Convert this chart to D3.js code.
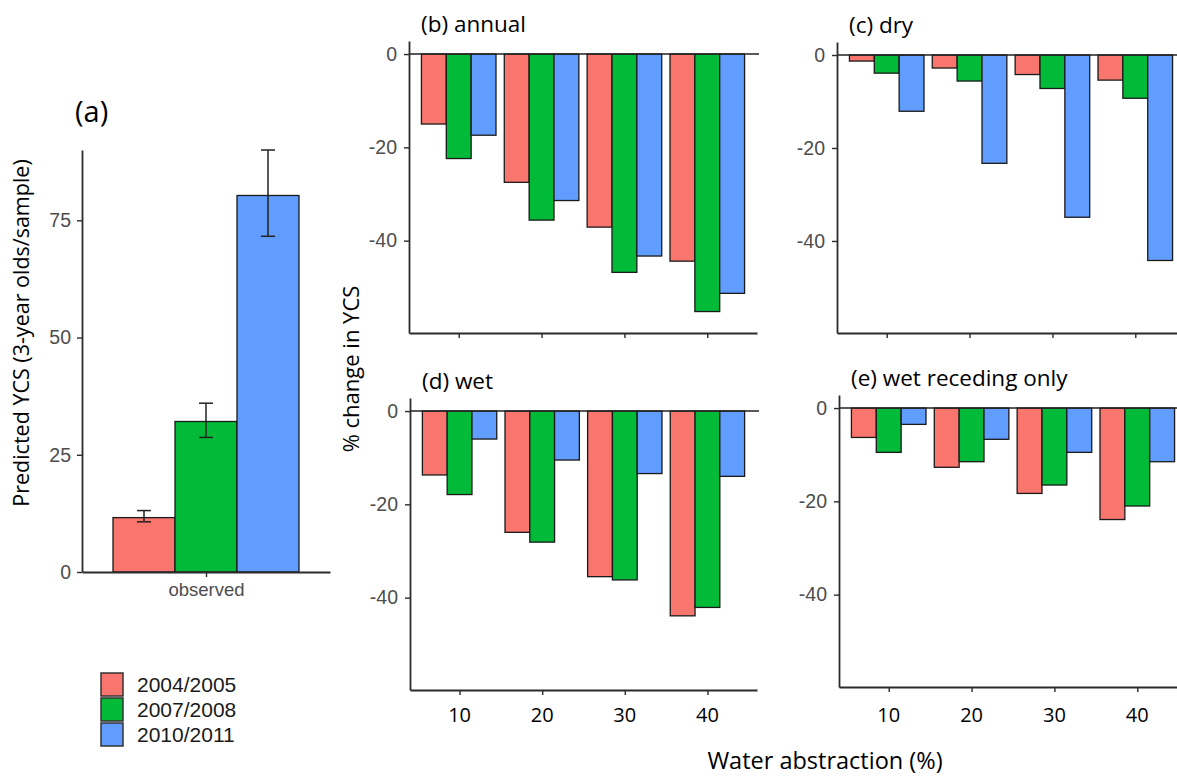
<!DOCTYPE html>
<html>
<head>
<meta charset="utf-8">
<script src="https://cdn.jsdelivr.net/npm/d3@7"></script>
<style>
  html, body { margin: 0; padding: 0; background: #fff; }
  svg { display: block; }
</style>
</head>
<body>
<svg id="chart" width="1177" height="777"></svg>
<script>
// ---------------- DATA ----------------
const groups = ["2004/2005", "2007/2008", "2010/2011"];
const observedCategory = ["observed"];
const observedMean  = [11.6, 32.1, 80.3];
const observedLower = [10.7, 28.7, 71.6];
const observedUpper = [13.1, 36.0, 90.0];

const abstraction = [10, 20, 30, 40];
// series per group: [2004/2005, 2007/2008, 2010/2011], values per abstraction level
const annualChange = [
  [-15.0, -27.5, -37.1, -44.4],
  [-22.4, -35.6, -46.8, -55.2],
  [-17.4, -31.4, -43.3, -51.3]
];
const dryChange = [
  [-1.3, -2.8, -4.2, -5.4],
  [-3.9, -5.6, -7.2, -9.3],
  [-12.1, -23.3, -34.9, -44.2]
];
const wetChange = [
  [-13.7, -26.0, -35.5, -43.9],
  [-17.9, -28.1, -36.2, -42.1],
  [-6.0, -10.5, -13.4, -14.0]
];
const wetRecedingChange = [
  [-6.3, -12.7, -18.3, -23.9],
  [-9.5, -11.5, -16.5, -21.0],
  [-3.5, -6.7, -9.5, -11.5]
];
const observedTicks = [0, 25, 50, 75];
const changeTicks = [0, -20, -40];
const changeDomain = [-59.8, 2.8];
const observedDomain = [0, 90];

// ---------------- STYLE ----------------
const colors = ["#F8766D", "#00BA38", "#619CFF"];
const axisColor = "#2b2b2b";
const tickLabelColor = "#4d4d4d";
const tickFont = "'Liberation Sans', Arial, sans-serif";
const labelFont = "'Open Sans', 'Noto Sans', sans-serif";
const plainFormat = d => String(d);   // hyphen-minus like the reference

const svg = d3.select("#chart");

function styleAxis(g) {
  g.select(".domain").attr("stroke", axisColor).attr("stroke-width", 1.8);
  g.selectAll(".tick line").attr("stroke", axisColor).attr("stroke-width", 1.4);
  g.selectAll(".tick text")
    .attr("fill", tickLabelColor)
    .style("font-family", tickFont)
    .style("font-size", "19.5px");
}

// ---------------- PANEL (a) ----------------
(function () {
  const L = 82, R = 330, T = 150, B = 572;
  const x = d3.scalePoint().domain(observedCategory).range([L, R]).padding(0.6);
  const step = (R - L) / 1.2;
  const y = d3.scaleLinear().domain(observedDomain).range([B, T]);
  const g = svg.append("g");
  const bw = 0.3 * step;
  const cx = x("observed");

  g.selectAll("rect.bar").data(groups).join("rect")
    .attr("class", "bar")
    .attr("x", (d, i) => cx + (i - 1) * bw - bw / 2)
    .attr("width", bw)
    .attr("y", (d, i) => y(observedMean[i]))
    .attr("height", (d, i) => y(0) - y(observedMean[i]))
    .attr("fill", (d, i) => colors[i])
    .attr("stroke", "#1a1a1a").attr("stroke-width", 1.3);

  const cap = 14;
  groups.forEach((d, i) => {
    const ex = cx + (i - 1) * bw;
    g.append("line").attr("x1", ex).attr("x2", ex)
      .attr("y1", y(observedLower[i])).attr("y2", y(observedUpper[i]))
      .attr("stroke", "#222").attr("stroke-width", 1.5);
    [observedLower[i], observedUpper[i]].forEach(v => {
      g.append("line").attr("x1", ex - cap / 2).attr("x2", ex + cap / 2)
        .attr("y1", y(v)).attr("y2", y(v))
        .attr("stroke", "#222").attr("stroke-width", 1.5);
    });
  });

  const ya = g.append("g").attr("transform", `translate(${L},0)`)
    .call(d3.axisLeft(y).tickValues(observedTicks).tickFormat(plainFormat)
      .tickSize(5).tickSizeOuter(0).tickPadding(6));
  styleAxis(ya);
  const xa = g.append("g").attr("transform", `translate(0,${B})`)
    .call(d3.axisBottom(x).tickSize(5).tickSizeOuter(0).tickPadding(6));
  styleAxis(xa);
  xa.selectAll(".tick text").style("font-size", "18.5px");

  svg.append("text").text("(a)")
    .attr("x", 75).attr("y", 122)
    .style("font-family", labelFont).style("font-size", "29px").attr("fill", "#000");
  svg.append("text").text("Predicted YCS (3-year olds/sample)")
    .attr("transform", "translate(29,333) rotate(-90)")
    .attr("text-anchor", "middle")
    .style("font-family", labelFont).style("font-size", "21.5px").attr("fill", "#000");

  // legend
  const lg = svg.append("g");
  groups.forEach((d, i) => {
    lg.append("rect").attr("x", 101).attr("y", 673 + i * 25)
      .attr("width", 22).attr("height", 23)
      .attr("fill", colors[i]).attr("stroke", "#333").attr("stroke-width", 1.5);
    lg.append("text").text(d).attr("x", 137).attr("y", 673 + i * 25 + 11.5)
      .attr("dominant-baseline", "central")
      .style("font-family", tickFont).style("font-size", "21px").attr("fill", "#1a1a1a");
  });
})();

// ---------------- CHANGE PANELS ----------------
function changePanel(data, L, R, T, B, title, showLabels) {
  const g = svg.append("g");
  const x = d3.scalePoint().domain(abstraction).range([L, R]).padding(0.6);
  const step = x.step();
  const bw = 0.3 * step;
  const y = d3.scaleLinear().domain(changeDomain).range([B, T]);

  groups.forEach((grp, i) => {
    g.selectAll(null).data(abstraction).join("rect")
      .attr("x", (d) => x(d) + (i - 1) * bw - bw / 2)
      .attr("width", bw)
      .attr("y", y(0))
      .attr("height", (d, k) => y(data[i][k]) - y(0))
      .attr("fill", colors[i])
      .attr("stroke", "#1a1a1a").attr("stroke-width", 1.3);
  });

  g.append("line").attr("x1", L).attr("x2", R + 2)
    .attr("y1", y(0)).attr("y2", y(0))
    .attr("stroke", "#222").attr("stroke-width", 1.6);

  const ya = g.append("g").attr("transform", `translate(${L},0)`)
    .call(d3.axisLeft(y).tickValues(changeTicks).tickFormat(plainFormat)
      .tickSize(5).tickSizeOuter(0).tickPadding(7));
  styleAxis(ya);
  const xa = g.append("g").attr("transform", `translate(0,${B})`)
    .call(d3.axisBottom(x).tickSize(5).tickSizeOuter(0));
  styleAxis(xa);
  xa.selectAll(".tick text").remove();

  if (showLabels) {
    abstraction.forEach(v => {
      svg.append("text").text(v).attr("x", x(v)).attr("y", 722)
        .attr("text-anchor", "middle")
        .style("font-family", labelFont).style("font-size", "20px").attr("fill", "#000");
    });
  }
  svg.append("text").text(title).attr("x", L + 12).attr("y", T - 9)
    .style("font-family", labelFont).style("font-size", "22.5px").attr("fill", "#000");
}

changePanel(annualChange, 409, 757, 41, 333, "(b) annual", false);
changePanel(dryChange, 837, 1185, 42, 333, "(c) dry", false);
changePanel(wetChange, 410, 757, 398, 690, "(d) wet", true);
changePanel(wetRecedingChange, 839, 1187, 395, 687, "(e) wet receding only", true);

svg.append("text").text("% change in YCS")
  .attr("transform", "translate(359,369) rotate(-90)")
  .attr("text-anchor", "middle")
  .style("font-family", labelFont).style("font-size", "22px").attr("fill", "#000");

svg.append("text").text("Water abstraction (%)")
  .attr("x", 825).attr("y", 769)
  .attr("text-anchor", "middle")
  .style("font-family", labelFont).style("font-size", "23.5px").attr("fill", "#000");
</script>
</body>
</html>
